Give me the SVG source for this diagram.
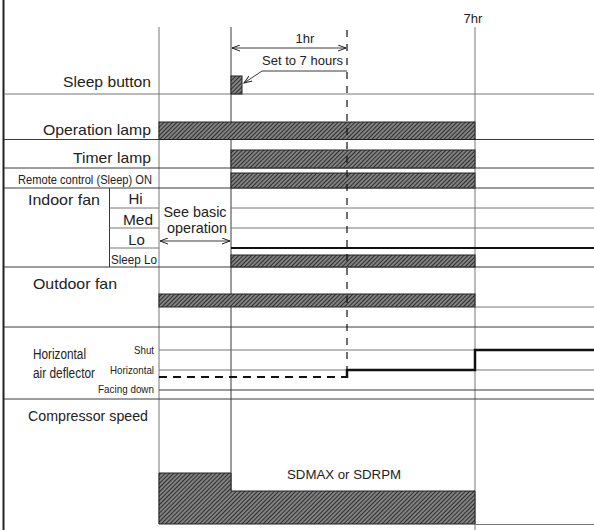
<svg xmlns="http://www.w3.org/2000/svg" width="594" height="530" viewBox="0 0 594 530">
<style>
.ln{stroke:#3a3a3a;stroke-width:1;fill:none}
.lg{stroke:#777;stroke-width:1;fill:none}
.thk{stroke:#111;stroke-width:2.5;fill:none}
.band{fill:url(#hatch);stroke:#222;stroke-width:1}
.t{font-family:"Liberation Sans",Arial,sans-serif;fill:#222}
.big{font-size:15px}
.mid{font-size:13px}
.sm{font-size:11px}
</style>
<defs>
<pattern id="hatch" width="3" height="3" patternUnits="userSpaceOnUse" patternTransform="rotate(-45)">
<rect width="3" height="3" fill="#a6a6a6"/>
<line x1="0" y1="1.5" x2="3" y2="1.5" stroke="#2e2e2e" stroke-width="1.6"/>
</pattern>
<marker id="ah" markerWidth="9" markerHeight="7" refX="8" refY="3.5" orient="auto-start-reverse" markerUnits="userSpaceOnUse">
<path d="M0,0.5 L8,3.5 L0,6.5" fill="none" stroke="#222" stroke-width="1"/>
</marker>
</defs>
<rect width="594" height="530" fill="#fff"/>

<g id="frame">
<line x1="3.5" y1="0" x2="3.5" y2="530" stroke="#222" stroke-width="2"/>
<line class="lg" x1="159" y1="27" x2="159" y2="524"/>
<line class="ln" x1="231" y1="27" x2="231" y2="491"/>
<line class="lg" x1="475" y1="27" x2="475" y2="530"/>
<line class="ln" x1="109.5" y1="188" x2="109.5" y2="267"/>
<line class="lg" x1="4" y1="94" x2="594" y2="94"/>
<line class="ln" x1="4" y1="139.5" x2="594" y2="139.5"/>
<line class="ln" x1="4" y1="168" x2="594" y2="168"/>
<line class="ln" x1="4" y1="188" x2="594" y2="188"/>
<line class="ln" x1="4" y1="267" x2="594" y2="267"/>
<line class="ln" x1="4" y1="327" x2="594" y2="327"/>
<line class="ln" x1="4" y1="399" x2="594" y2="399"/>
<line class="lg" x1="475" y1="524.5" x2="594" y2="524.5"/>
</g>

<g id="sleep-button">
<text class="t big" x="151" y="87" text-anchor="end" textLength="88" lengthAdjust="spacingAndGlyphs">Sleep button</text>
<rect class="band" x="231" y="76" width="11" height="18"/>
<text class="t mid" x="305" y="43" text-anchor="middle">1hr</text>
<line class="ln" x1="232" y1="48" x2="346" y2="48" marker-start="url(#ah)" marker-end="url(#ah)"/>
<text class="t mid" x="262" y="65" textLength="81" lengthAdjust="spacingAndGlyphs">Set to 7 hours</text>
<polyline class="ln" points="347,71 262,71 244,83" marker-end="url(#ah)"/>
<text class="t mid" x="473" y="23" text-anchor="middle">7hr</text>
</g>

<g id="operation-lamp">
<text class="t big" x="151" y="135" text-anchor="end" textLength="108" lengthAdjust="spacingAndGlyphs">Operation lamp</text>
<rect class="band" x="159" y="122" width="316" height="17.5"/>
</g>

<g id="timer-lamp">
<text class="t big" x="151" y="163" text-anchor="end" textLength="78" lengthAdjust="spacingAndGlyphs">Timer lamp</text>
<rect class="band" x="231" y="150" width="244" height="18"/>
</g>

<g id="remote-control">
<text class="t mid" x="18" y="184" textLength="134" lengthAdjust="spacingAndGlyphs">Remote control (Sleep) ON</text>
<rect class="band" x="231" y="173" width="244" height="15"/>
</g>

<g id="indoor-fan">
<text class="t big" x="28" y="205" textLength="72" lengthAdjust="spacingAndGlyphs">Indoor fan</text>
<text class="t big" x="135.5" y="204" text-anchor="middle">Hi</text>
<text class="t big" x="138" y="225" text-anchor="middle" textLength="30" lengthAdjust="spacingAndGlyphs">Med</text>
<text class="t big" x="136.5" y="245" text-anchor="middle">Lo</text>
<text class="t mid" x="111" y="264" textLength="46" lengthAdjust="spacingAndGlyphs">Sleep Lo</text>
<line class="lg" x1="109.5" y1="208" x2="159" y2="208"/>
<line class="lg" x1="109.5" y1="228" x2="159" y2="228"/>
<line class="lg" x1="109.5" y1="248" x2="159" y2="248"/>
<line class="lg" x1="231" y1="208" x2="594" y2="208"/>
<line class="lg" x1="231" y1="228" x2="594" y2="228"/>
<line x1="231" y1="248" x2="594" y2="248" stroke="#111" stroke-width="2"/>
<rect class="band" x="231" y="255" width="244" height="12"/>
<text class="t big" x="195" y="217" text-anchor="middle" textLength="63" lengthAdjust="spacingAndGlyphs">See basic</text>
<text class="t big" x="197" y="233" text-anchor="middle" textLength="60" lengthAdjust="spacingAndGlyphs">operation</text>
<line class="ln" x1="160" y1="241" x2="230" y2="241" marker-start="url(#ah)" marker-end="url(#ah)"/>
</g>

<g id="outdoor-fan">
<text class="t big" x="33" y="289" textLength="84" lengthAdjust="spacingAndGlyphs">Outdoor fan</text>
<rect class="band" x="159" y="294" width="316" height="13"/>
<line class="lg" x1="475" y1="307" x2="594" y2="307"/>
</g>

<g id="air-deflector">
<text class="t" font-size="14" x="33" y="359" textLength="53" lengthAdjust="spacingAndGlyphs">Horizontal</text>
<text class="t" font-size="14" x="33" y="378" textLength="62" lengthAdjust="spacingAndGlyphs">air deflector</text>
<text class="t sm" x="154" y="354" text-anchor="end" textLength="20" lengthAdjust="spacingAndGlyphs">Shut</text>
<text class="t sm" x="154" y="374" text-anchor="end" textLength="44" lengthAdjust="spacingAndGlyphs">Horizontal</text>
<text class="t sm" x="154" y="393" text-anchor="end" textLength="56" lengthAdjust="spacingAndGlyphs">Facing down</text>
<line class="lg" x1="159" y1="350" x2="594" y2="350"/>
<line class="lg" x1="159" y1="370" x2="594" y2="370"/>
<line class="ln" x1="159" y1="390" x2="594" y2="390"/>
<line x1="159" y1="377" x2="346" y2="377" stroke="#111" stroke-width="2.2" stroke-dasharray="8,6"/>
<polyline class="thk" points="347,378 347,370 475,370 475,350 594,350"/>
</g>

<g id="compressor">
<text class="t big" x="28" y="421" textLength="120" lengthAdjust="spacingAndGlyphs">Compressor speed</text>
<polygon class="band" points="159,473 231,473 231,491 475,491 475,524 159,524"/>
<text class="t mid" x="287" y="479" textLength="114" lengthAdjust="spacingAndGlyphs">SDMAX or SDRPM</text>
</g>

<g id="connectors">
<line x1="347" y1="30" x2="347" y2="370" stroke="#111" stroke-width="1.2" stroke-dasharray="7,7"/>
</g>
</svg>
